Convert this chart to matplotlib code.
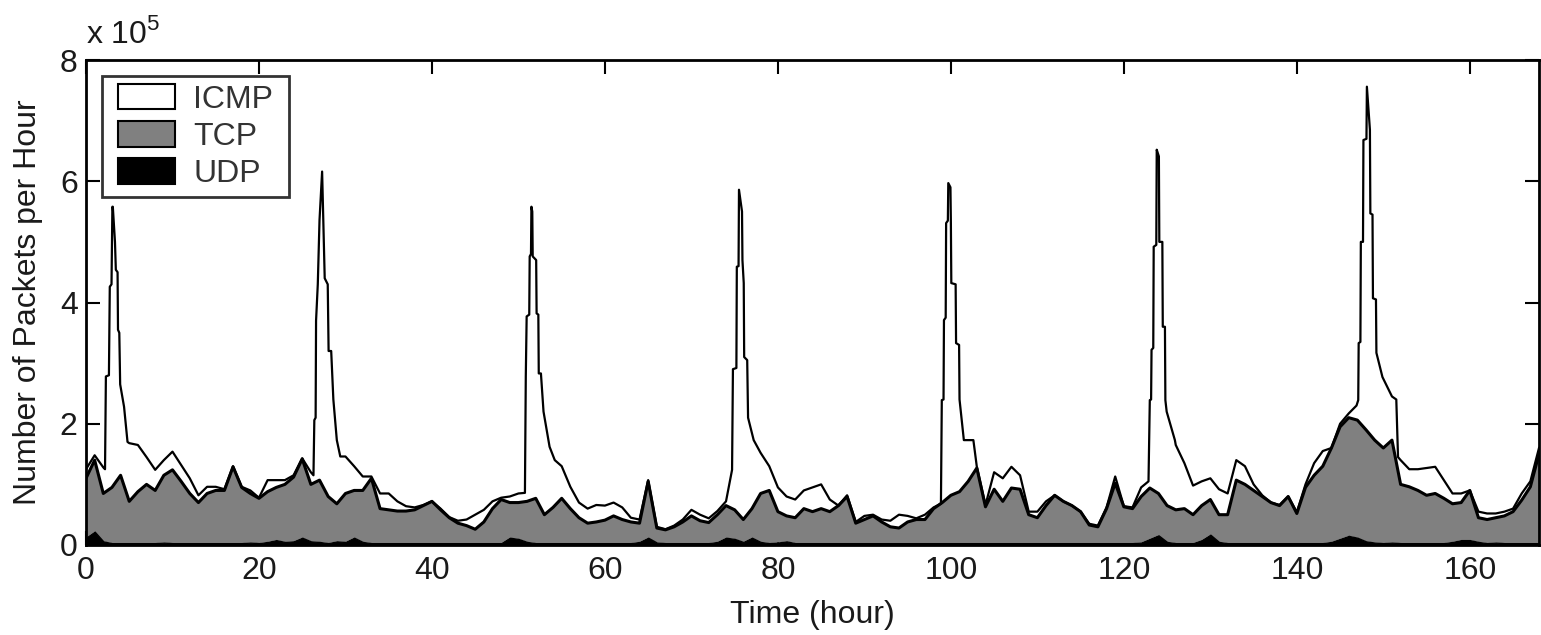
import numpy as np
import matplotlib
matplotlib.use("Agg")
import matplotlib.pyplot as plt
from matplotlib.patches import Patch
from matplotlib.legend_handler import HandlerPatch

plt.rcParams['font.family'] = ['Liberation Sans', 'DejaVu Sans']
plt.rcParams['mathtext.fontset'] = 'custom'
plt.rcParams['mathtext.rm'] = 'Liberation Sans'

# packets per hour, in units of 1e5, one value per hour 0..168
hours = np.arange(169)

udp = [0.12, 0.22, 0.06, 0.03, 0.03, 0.03, 0.03, 0.03, 0.03, 0.04,
       0.03, 0.03, 0.03, 0.03, 0.03, 0.03, 0.03, 0.03, 0.03, 0.04,
       0.03, 0.05, 0.08, 0.05, 0.06, 0.12, 0.06, 0.05, 0.03, 0.06,
       0.05, 0.12, 0.05, 0.03, 0.03, 0.03, 0.03, 0.03, 0.03, 0.03,
       0.03, 0.03, 0.03, 0.03, 0.03, 0.03, 0.03, 0.03, 0.03, 0.12,
       0.10, 0.05, 0.03, 0.03, 0.03, 0.03, 0.03, 0.03, 0.03, 0.03,
       0.03, 0.03, 0.03, 0.03, 0.05, 0.12, 0.04, 0.03, 0.03, 0.03,
       0.03, 0.03, 0.03, 0.05, 0.12, 0.10, 0.05, 0.12, 0.05, 0.03,
       0.04, 0.06, 0.03, 0.03, 0.03, 0.03, 0.03, 0.03, 0.03, 0.03,
       0.03, 0.03, 0.03, 0.03, 0.03, 0.03, 0.03, 0.03, 0.03, 0.03,
       0.03, 0.03, 0.03, 0.03, 0.03, 0.03, 0.03, 0.03, 0.03, 0.03,
       0.03, 0.03, 0.03, 0.03, 0.03, 0.03, 0.03, 0.03, 0.03, 0.03,
       0.03, 0.03, 0.04, 0.10, 0.16, 0.05, 0.03, 0.03, 0.03, 0.08,
       0.17, 0.05, 0.03, 0.03, 0.03, 0.03, 0.03, 0.03, 0.03, 0.03,
       0.03, 0.03, 0.03, 0.03, 0.05, 0.10, 0.15, 0.12, 0.06, 0.04,
       0.03, 0.04, 0.03, 0.03, 0.03, 0.03, 0.03, 0.03, 0.05, 0.08,
       0.08, 0.05, 0.03, 0.04, 0.03, 0.03, 0.03, 0.03, 0.03]

tcp = [0.98, 1.18, 0.79, 0.92, 1.12, 0.69, 0.85, 0.97, 0.87, 1.11,
       1.21, 1.02, 0.82, 0.67, 0.82, 0.87, 0.87, 1.26, 0.92, 0.81,
       0.74, 0.83, 0.87, 0.95, 1.06, 1.30, 0.94, 1.02, 0.77, 0.62,
       0.80, 0.78, 0.85, 1.07, 0.57, 0.55, 0.53, 0.53, 0.55, 0.62,
       0.69, 0.55, 0.42, 0.33, 0.29, 0.23, 0.35, 0.57, 0.72, 0.58,
       0.60, 0.67, 0.74, 0.47, 0.59, 0.74, 0.57, 0.42, 0.33, 0.35,
       0.38, 0.45, 0.39, 0.35, 0.31, 0.93, 0.24, 0.22, 0.27, 0.35,
       0.45, 0.37, 0.34, 0.45, 0.53, 0.48, 0.37, 0.48, 0.80, 0.87,
       0.51, 0.42, 0.42, 0.57, 0.52, 0.57, 0.52, 0.62, 0.77, 0.33,
       0.39, 0.45, 0.35, 0.27, 0.25, 0.35, 0.39, 0.39, 0.57, 0.67,
       0.79, 0.85, 1.02, 1.24, 0.60, 0.89, 0.69, 0.91, 0.89, 0.47,
       0.42, 0.62, 0.79, 0.69, 0.62, 0.52, 0.30, 0.27, 0.57, 0.99,
       0.60, 0.57, 0.76, 0.84, 0.69, 0.60, 0.55, 0.57, 0.47, 0.57,
       0.58, 0.45, 0.47, 1.04, 0.97, 0.87, 0.77, 0.67, 0.62, 0.77,
       0.49, 0.92, 1.12, 1.27, 1.55, 1.85, 1.95, 1.94, 1.84, 1.69,
       1.57, 1.69, 0.97, 0.93, 0.87, 0.79, 0.82, 0.74, 0.63, 0.62,
       0.82, 0.40, 0.39, 0.41, 0.45, 0.52, 0.71, 0.93, 1.47]

# top of the ICMP layer (all protocols), finer steps around the daily ICMP bursts
total_hours = ([0, 1, 2]
               + [2.2, 2.3, 2.65, 2.75, 2.95, 3.05, 3.1, 3.35, 3.45, 3.65, 3.7, 3.85, 3.95, 4.4, 4.8]
               + list(range(5, 27))
               + [26.3, 26.4, 26.55, 26.6, 26.8, 27.0, 27.3, 27.45, 27.6, 27.95, 28.05, 28.35, 28.6, 29.0, 29.4]
               + list(range(30, 51))
               + [50.75, 50.85, 50.95, 51.25, 51.3, 51.45, 51.5, 51.6, 51.65, 52.05, 52.1, 52.3, 52.35, 52.6, 52.9, 53.6, 54.2]
               + list(range(55, 75))
               + [74.7, 74.8, 75.2, 75.25, 75.45, 75.5, 75.85, 75.9, 76.05, 76.1, 76.45, 76.55, 77.2, 77.8]
               + list(range(78, 99))
               + [98.85, 98.95, 99.15, 99.2, 99.4, 99.45, 99.65, 99.7, 99.95, 100.0, 100.05, 100.55, 100.6, 100.95, 101.0, 101.5, 102.6]
               + list(range(103, 123))
               + [122.85, 123.0, 123.15, 123.2, 123.4, 123.45, 123.75, 123.8, 124.05, 124.1, 124.45, 124.5, 124.75, 124.8, 124.95, 125.9]
               + list(range(126, 147))
               + [146.9, 147.1, 147.15, 147.35, 147.4, 147.65, 147.7, 148.05, 148.1, 148.45, 148.5, 148.75, 148.8, 149.15, 149.2, 149.9, 151.0, 151.5, 151.7]
               + list(range(152, 169)))

total = ([1.25, 1.48, 1.28]
         + [1.25, 2.78, 2.8, 4.26, 4.3, 5.58, 5.58, 5.0, 4.54, 4.5, 3.55, 3.5, 2.65, 2.28, 1.7]
         + [1.68, 1.65, 1.45, 1.24, 1.4, 1.54, 1.32, 1.1, 0.82, 0.96, 0.96, 0.92, 1.3, 0.96, 0.9, 0.78,
            1.07, 1.07, 1.07, 1.15, 1.43, 1.2]
         + [1.15, 2.06, 2.1, 3.7, 4.3, 5.36, 6.16, 5.3, 4.4, 4.3, 3.2, 3.2, 2.4, 1.73, 1.46]
         + [1.46, 1.3, 1.13, 1.13, 0.85, 0.85, 0.72, 0.64, 0.62, 0.66, 0.72, 0.6, 0.46, 0.4, 0.42, 0.5,
            0.58, 0.72, 0.78, 0.8, 0.85]
         + [0.86, 2.78, 3.77, 3.8, 4.76, 4.8, 5.58, 5.5, 4.76, 4.7, 3.82, 3.8, 2.83, 2.83, 2.2, 1.62, 1.4]
         + [1.3, 0.96, 0.7, 0.6, 0.66, 0.65, 0.7, 0.62, 0.45, 0.42, 1.07, 0.3, 0.26, 0.32, 0.42, 0.58,
            0.5, 0.44, 0.56, 0.72]
         + [1.24, 2.9, 2.92, 4.59, 4.6, 5.86, 5.5, 4.7, 4.32, 3.1, 3.05, 2.1, 1.73, 1.57]
         + [1.52, 1.3, 0.95, 0.8, 0.75, 0.9, 0.95, 1.0, 0.75, 0.65, 0.82, 0.38, 0.48, 0.5, 0.42, 0.4,
            0.5, 0.48, 0.44, 0.5, 0.62]
         + [0.68, 2.39, 2.4, 3.71, 3.75, 5.31, 5.35, 5.97, 5.9, 5.31, 4.32, 4.3, 3.33, 3.3, 2.4, 1.73, 1.73]
         + [1.29, 0.66, 1.2, 1.1, 1.29, 1.15, 0.55, 0.55, 0.72, 0.82, 0.72, 0.65, 0.55, 0.35, 0.32, 0.62,
            1.13, 0.64, 0.62, 0.95]
         + [1.05, 2.39, 2.4, 3.22, 3.25, 4.92, 4.95, 6.52, 6.41, 5.0, 5.0, 3.6, 3.6, 2.39, 2.2, 1.73]
         + [1.65, 1.35, 0.98, 1.05, 1.1, 0.92, 0.85, 1.4, 1.3, 1.0, 0.82, 0.7, 0.66, 0.8, 0.54, 1.0,
            1.35, 1.55, 1.6, 2.0, 2.17]
         + [2.3, 2.39, 3.33, 3.35, 5.0, 5.0, 6.68, 6.7, 7.56, 6.85, 5.47, 5.45, 4.07, 4.05, 3.17, 2.77,
            2.45, 2.4, 1.45]
         + [1.4, 1.25, 1.25, 1.27, 1.29, 1.07, 0.85, 0.85, 0.9, 0.55, 0.52, 0.52, 0.55, 0.6, 0.85, 1.05, 1.6])

x_ticks = [0, 20, 40, 60, 80, 100, 120, 140, 160]
y_ticks = [0, 2, 4, 6, 8]
labels = ['ICMP', 'TCP', 'UDP']

udp = np.array(udp)
tcp_top = udp + np.array(tcp)

fig = plt.figure(figsize=(15.41, 6.35), dpi=100)
ax = fig.add_axes([86 / 1541, 90 / 635, 1453 / 1541, 485 / 635])

gray = '#808080'
ax.fill_between(hours, udp, tcp_top, facecolor=gray, edgecolor='none', zorder=1)
ax.fill_between(hours, 0, udp, facecolor='black', edgecolor='black', lw=1.0, zorder=1.2)
ax.plot(hours, tcp_top, color='black', lw=2.2, zorder=2)
ax.plot(total_hours, total, color='black', lw=1.6, zorder=2.1)

ax.set_xlim(0, 168)
ax.set_ylim(0, 8)
ax.set_xticks(x_ticks)
ax.set_yticks(y_ticks)
ax.set_axisbelow(True)
ax.tick_params(direction='in', length=10, width=1.5, top=True, right=True,
               labelsize=23, colors='black', labelcolor='#1a1a1a')
ax.tick_params(axis='y', pad=6)
ax.tick_params(axis='x', pad=8)
for s in ax.spines.values():
    s.set_linewidth(2)

ax.set_xlabel('Time (hour)', fontsize=23, color='#1a1a1a', labelpad=10)
ax.set_ylabel('Number of Packets per Hour', fontsize=23, color='#1a1a1a', labelpad=12)
ax.text(0.0, 1.02, r'x 10$^{\mathregular{5}}$', transform=ax.transAxes,
        fontsize=23, color='#1a1a1a', ha='left', va='bottom')

handles = [Patch(facecolor='white', edgecolor='black', lw=1.5, label=labels[0] + ' '),
           Patch(facecolor=gray, edgecolor='black', lw=1.5, label=labels[1]),
           Patch(facecolor='black', edgecolor='black', lw=1.5, label=labels[2])]
leg = ax.legend(handles=handles, loc='upper left', fontsize=23, frameon=True,
                fancybox=False, borderaxespad=0.5, borderpad=0.25,
                handlelength=2.05, handleheight=0.85, handletextpad=0.55,
                labelspacing=0.2, handler_map={Patch: HandlerPatch(xpad=0.25)})
leg.get_frame().set_edgecolor('black')
leg.get_frame().set_linewidth(2)
for t in leg.get_texts():
    t.set_color('#333333')

fig.savefig('out.png', dpi=100, facecolor='white')
